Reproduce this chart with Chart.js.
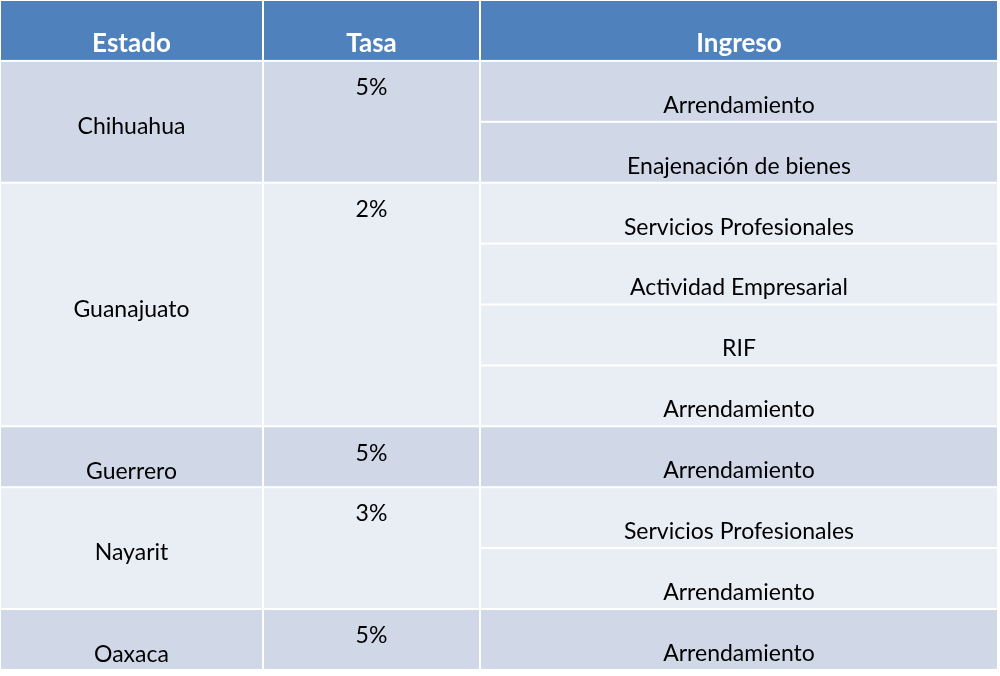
<!DOCTYPE html>
<html><head><meta charset="utf-8">
<script src="https://cdn.jsdelivr.net/npm/chart.js@4"></script>
<style>html,body{margin:0;padding:0;background:#fff}#w{width:1000px;height:676px}</style>
</head><body><div id="w"><canvas id="c"></canvas></div>
<script>
const headers = ["Estado","Tasa","Ingreso"];
const estados = ["Chihuahua","Guanajuato","Guerrero","Nayarit","Oaxaca"];
const tasas = ["5%","2%","5%","3%","5%"];
const ingresos = [
  ["Arrendamiento","Enajenación de bienes"],
  ["Servicios Profesionales","Actividad Empresarial","RIF","Arrendamiento"],
  ["Arrendamiento"],
  ["Servicios Profesionales","Arrendamiento"],
  ["Arrendamiento"]
];
const colEdges = [0,263,480,998];
const RH = 60.9;
const dark = "#D0D8E8", light = "#E9EDF4", head = "#4F81BD";
const FONT = "Lato, 'Open Sans', sans-serif";

const tablePlugin = {
  id:'table',
  afterDraw(chart){
    const {ctx, scales:{x,y}} = chart;
    const X = v=>x.getPixelForValue(v), Y = v=>y.getPixelForValue(v);
    const rect=(c0,c1,r0,r1,col)=>{
      ctx.fillStyle=col;
      const px0=X(c0)+1, px1=X(c1)-1, py0=Y(r0)+1, py1=Y(r1)-1;
      ctx.fillRect(px0,py0,px1-px0,py1-py0);
    };
    const text=(t,cx,ry,font,col)=>{
      ctx.font=font; ctx.fillStyle=col; ctx.textAlign='center'; ctx.textBaseline='middle';
      ctx.fillText(t,cx,Y(ry));
    };
    ctx.save();
    // header
    for(let i=0;i<3;i++){
      rect(colEdges[i],colEdges[i+1],0,1,head);
      text(headers[i],(X(colEdges[i])+X(colEdges[i+1]))/2,0.72,"bold 26px "+FONT,"#fff");
    }
    let r=1;
    estados.forEach((e,g)=>{
      const n=ingresos[g].length, col=g%2===0?dark:light;
      rect(colEdges[0],colEdges[1],r,r+n,col);
      rect(colEdges[1],colEdges[2],r,r+n,col);
      const sy = n===1 ? r+0.75 : r+n/2+0.08;
      text(e,(X(colEdges[0])+X(colEdges[1]))/2,sy,"23px "+FONT,"#000");
      text(tasas[g],(X(colEdges[1])+X(colEdges[2]))/2,r+0.44,"23px "+FONT,"#000");
      ingresos[g].forEach((t,k)=>{
        rect(colEdges[2],colEdges[3],r+k,r+k+1,col);
        text(t,(X(colEdges[2])+X(colEdges[3]))/2,r+k+0.73,"23px "+FONT,"#000");
      });
      r+=n;
    });
    ctx.restore();
  }
};

new Chart(document.getElementById('c'),{
  type:'scatter',
  data:{datasets:[{data:[],pointRadius:0}]},
  options:{
    responsive:true, maintainAspectRatio:false, animation:false,
    layout:{padding:0},
    plugins:{legend:{display:false},tooltip:{enabled:false}},
    scales:{
      x:{type:'linear',min:0,max:1000,display:false},
      y:{type:'linear',min:0,max:676/RH,reverse:true,display:false}
    }
  },
  plugins:[tablePlugin]
});
</script></body></html>
